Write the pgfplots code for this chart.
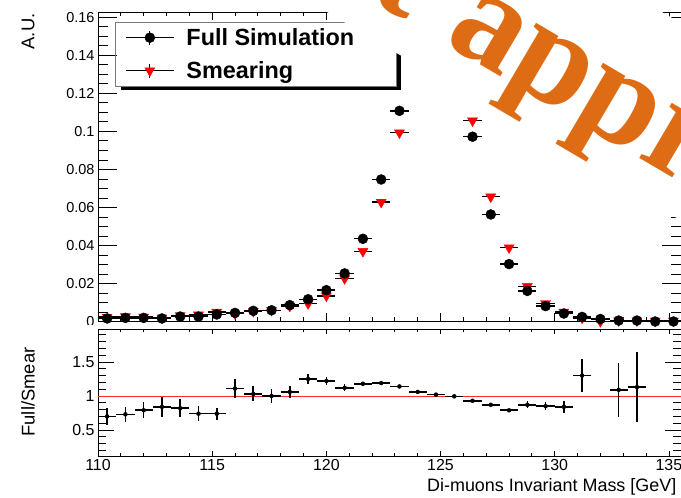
\documentclass[border=0pt]{standalone}
\usepackage{pgfplots}
\pgfplotsset{compat=1.18}
\usepackage{pgfplotstable}
\usepackage{fontspec}
\setmainfont{Liberation Sans}
\newfontfamily\wmfont{Liberation Serif}
\definecolor{wmorange}{RGB}{222,108,20}
\definecolor{ratiored}{RGB}{250,40,40}
\definecolor{legframe}{RGB}{120,120,120}

% bin centre, Full Simulation (f, ef), Smearing (s, es)
\pgfplotstableread{
x f ef s es
110.4 0.0016 0.0002 0.0023 0.0002
111.2 0.0019 0.0002 0.0026 0.0002
112.0 0.0019 0.0002 0.0024 0.0002
112.8 0.0016 0.0002 0.0019 0.0002
113.6 0.0026 0.0002 0.0032 0.0003
114.4 0.0026 0.0002 0.0035 0.0003
115.2 0.0037 0.0003 0.0050 0.0003
116.0 0.0045 0.0003 0.0041 0.0003
116.8 0.0056 0.0003 0.0054 0.0004
117.6 0.0059 0.0003 0.0059 0.0004
118.4 0.0086 0.0004 0.0081 0.0004
119.2 0.0117 0.0005 0.0094 0.0005
120.0 0.0165 0.0006 0.0135 0.0006
120.8 0.0253 0.0007 0.0226 0.0008
121.6 0.0435 0.0009 0.0369 0.0010
122.4 0.0747 0.0012 0.0628 0.0012
123.2 0.1108 0.0015 0.0993 0.0015
124.0 0.1700 0.0018 0.1600 0.0018
124.8 0.1860 0.0019 0.1820 0.0019
125.6 0.1600 0.0018 0.1610 0.0018
126.4 0.0972 0.0014 0.1056 0.0015
127.2 0.0563 0.0011 0.0656 0.0012
128.0 0.0302 0.0008 0.0388 0.0009
128.8 0.0161 0.0006 0.0185 0.0006
129.6 0.0081 0.0004 0.0095 0.0004
130.4 0.0042 0.0003 0.0050 0.0003
131.2 0.0024 0.0002 0.0018 0.0002
132.0 0.0013 0.0002 0.0000 0.0000
132.8 0.0005 0.0001 0.00046 0.0001
133.6 0.0005 0.0001 0.00044 0.0001
134.4 0.0000 0.0000 0.0003 0.0001
135.2 0.0000 0.0000 0.0003 0.0001
}\toptable

% ratio Full/Smear
\pgfplotstableread{
x r er
110.4 0.70 0.13
111.2 0.73 0.115
112.0 0.79 0.12
112.8 0.84 0.15
113.6 0.82 0.13
114.4 0.74 0.11
115.2 0.74 0.09
116.0 1.11 0.14
116.8 1.03 0.11
117.6 1.00 0.10
118.4 1.06 0.09
119.2 1.25 0.08
120.0 1.22 0.065
120.8 1.12 0.05
121.6 1.18 0.03
122.4 1.19 0.02
123.2 1.14 0.015
124.0 1.06 0.01
124.8 1.02 0.01
125.6 0.995 0.01
126.4 0.93 0.015
127.2 0.87 0.02
128.0 0.79 0.025
128.8 0.87 0.05
129.6 0.85 0.06
130.4 0.84 0.09
131.2 1.30 0.24
132.8 1.09 0.40
133.6 1.13 0.51
}\ratiotable

\pgfplotsset{
  rootaxis/.style={
    scale only axis, width=583bp,
    xmin=110, xmax=135.53,
    axis line style={line width=0.9bp, black},
    every tick/.append style={line width=0.8bp, black},
    tick align=inside,
    xtick={110,115,120,125,130,135}, minor x tick num=4,
    /pgf/number format/assume math mode=true,
  },
}

\begin{document}
\begin{tikzpicture}
\useasboundingbox (0bp,0bp) rectangle (681bp,498bp);

% ---------------- top panel ----------------
\begin{axis}[rootaxis,
  at={(98bp,176.5bp)}, anchor=south west, height=309.5bp,
  ymin=0, ymax=0.1628,
  ytick={0,0.02,0.04,0.06,0.08,0.1,0.12,0.14,0.16},
  minor y tick num=3,
  major tick length=19bp, minor tick length=10bp,
  xtick style={/pgfplots/major tick length=8bp},
  minor x tick style={/pgfplots/minor tick length=4bp},
  xticklabels={},
  yticklabel style={font=\fontsize{14.5}{16}\selectfont, /pgf/number format/fixed, /pgf/number format/precision=2},
  ylabel={A.U.},
  every axis y label/.style={at={(axis description cs:-0.120,1.0065)}, rotate=90, anchor=east, font=\fontsize{18.5}{20}\selectfont},
  clip=false,
  restrict y to domain=-0.01:0.1628,
  legend style={at={(axis description cs:0.0463,0.9548)}, anchor=north west, draw=none, fill=none,
    inner xsep=0pt, inner ysep=0pt, row sep=10bp, column sep=10bp,
    font=\fontsize{23.5}{26}\selectfont\bfseries,
    nodes={inner sep=2bp, text height=17bp, text depth=2bp}},
  legend cell align=left,
]
\addplot[only marks, mark=triangle*, mark size=5.8bp, mark options={rotate=180, fill=red, draw=red}, forget plot,
  error bars/.cd, x dir=both, x fixed=0.4, y dir=both, y explicit, error mark=none,
  error bar style={black, line width=1.4bp}]
  table[x=x, y=s, y error=es]{\toptable};
\addplot[only marks, mark=*, mark size=5bp, mark options={fill=black, draw=black}, forget plot,
  error bars/.cd, x dir=both, x fixed=0.4, y dir=both, y explicit, error mark=none,
  error bar style={black, line width=1.4bp}]
  table[x=x, y=f, y error=ef]{\toptable};

\addlegendimage{only marks, mark=*, mark size=5bp, mark options={fill=black, draw=black},
  legend image code/.code={
    \draw[black, line width=1.3bp, solid] (0bp,0bp)--(48bp,0bp) (24bp,-7bp)--(24bp,7bp);
    \draw[mark repeat=2, mark phase=2] plot coordinates {(0bp,0bp) (24bp,0bp) (48bp,0bp)};}}
\addlegendentry{Full Simulation}
\addlegendimage{only marks, mark=triangle*, mark size=5.8bp, mark options={rotate=180, fill=red, draw=red},
  legend image code/.code={
    \draw[black, line width=1.3bp, solid] (0bp,0bp)--(48bp,0bp) (24bp,-7bp)--(24bp,7bp);
    \draw[mark repeat=2, mark phase=2] plot coordinates {(0bp,0bp) (24bp,0bp) (48bp,0bp)};}}
\addlegendentry{Smearing}
\end{axis}

% legend frame with ROOT-like shadow
\fill[black] (121bp,408bp) rectangle (401bp,412bp);
\fill[black] (396bp,408bp) rectangle (401bp,472bp);
\draw[legframe, line width=0.8bp] (115bp,412bp) rectangle (396bp,476bp);

% lower pad background cuts the lower part of the "0" label
\fill[white] (30bp,168.7bp) rectangle (97bp,173bp);

% ---------------- ratio panel ----------------
\begin{axis}[rootaxis,
  at={(98bp,42bp)}, anchor=south west, height=126.7bp,
  ymin=0.118, ymax=1.98,
  ytick={0,0.5,1,1.5,2}, minor y tick num=4,
  major tick length=16bp, minor tick length=8bp,
  xtick style={/pgfplots/major tick length=5bp},
  minor x tick style={/pgfplots/minor tick length=3bp},
  tick label style={font=\fontsize{16}{18}\selectfont},
  ylabel={Full/Smear},
  every axis y label/.style={at={(axis description cs:-0.120,0.505)}, rotate=90, anchor=center, font=\fontsize{18.5}{20}\selectfont},
  xlabel={Di-muons Invariant Mass [GeV]},
  every axis x label/.style={at={(axis description cs:0.998,-0.280)}, anchor=base east, font=\fontsize{18}{20}\selectfont},
]
\addplot[draw=ratiored, line width=0.9bp, forget plot] coordinates {(110,1) (135.53,1)};
\addplot[only marks, mark=none, forget plot,
  error bars/.cd, x dir=both, x fixed=0.4, y dir=both, y explicit, error mark=none,
  error bar style={black, line width=1.6bp}]
  table[x=x, y=r, y error=er]{\ratiotable};
\end{axis}

% ---------------- watermark band ----------------
\begin{scope}[shift={(327bp,486bp)}, rotate=-30.5]
  \fill[white] (-300bp,0bp) rectangle (900bp,170bp);
  \node[transform shape, anchor=base east, inner sep=0pt, text=wmorange, font=\wmfont\bfseries\fontsize{140}{150}\selectfont] at (73bp,32.5bp) {Not};
  \node[transform shape, anchor=base west, inner sep=0pt, text=wmorange, font=\wmfont\bfseries\fontsize{140}{150}\selectfont] at (115bp,32.5bp) {approved};
\end{scope}
\end{tikzpicture}
\end{document}
